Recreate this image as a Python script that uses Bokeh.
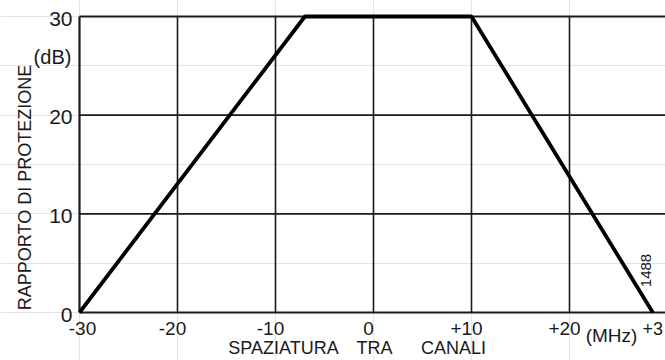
import math
from bokeh.plotting import figure
from bokeh.models import Range1d, Label
from bokeh.core.properties import value
from bokeh.embed import file_html
from bokeh.resources import INLINE

# Data
spacing_mhz = [-30, -7, 10, 28.5]
protection_db = [0, 30, 30, 0]
x_ticks = [-30, -20, -10, 0, 10, 20]
x_tick_labels = ["-30", "-20", "-10", "0", "+10", "+20"]
y_ticks = [0, 10, 20, 30]
y_tick_labels = ["0", "10", "20", "30"]
x_grid = [-20, -10, 0, 10, 20]
y_grid = [10, 20]
x_lo, x_hi = -30, 30
y_lo, y_hi = 0, 30

FONT = "Liberation Sans"
INK = "#1a1a1a"
W, H = 665, 360
# plot box in pixels (the canvas is one big frame so that texts are not clipped)
L, T, B = 79, 16, 312
px_x = 9.8
px_y = (B - T) / (y_hi - y_lo)

p = figure(frame_width=W, frame_height=H, min_border=0,
           x_range=Range1d(x_lo - L / px_x, x_lo + (W - L) / px_x),
           y_range=Range1d(y_lo - (H - B) / px_y, y_hi + T / px_y),
           x_axis_location=None, y_axis_location=None,
           output_backend="svg", toolbar_location=None)
p.outline_line_color = None
p.background_fill_color = "white"
p.border_fill_color = "white"

# inner grid
p.segment(x0=x_grid, y0=[y_lo] * len(x_grid), x1=x_grid, y1=[y_hi] * len(x_grid),
          line_color=INK, line_width=1.6)
p.segment(x0=[x_lo] * len(y_grid), y0=y_grid, x1=[x_hi] * len(y_grid), y1=y_grid,
          line_color=INK, line_width=1.6)
# box: left, bottom, top
p.segment(x0=[x_lo, x_lo, x_lo], y0=[y_lo, y_lo, y_hi],
          x1=[x_lo, x_hi, x_hi], y1=[y_hi, y_lo, y_hi],
          line_color=INK, line_width=2.2)

p.line(spacing_mhz, protection_db, line_color="black", line_width=3.8)

# tick labels
p.text(x=x_ticks[:1], y=[y_lo], text=x_tick_labels[:1], x_offset=3, y_offset=16,
       text_font=value(FONT), text_font_size="19px", text_color=INK,
       text_align="center", text_baseline="middle")
p.text(x=x_ticks[1:], y=[y_lo] * (len(x_ticks) - 1), text=x_tick_labels[1:],
       x_offset=-5, y_offset=16,
       text_font=value(FONT), text_font_size="19px", text_color=INK,
       text_align="center", text_baseline="middle")
p.text(x=[x_lo] * len(y_ticks), y=y_ticks, text=y_tick_labels, x_offset=-7, y_offset=2,
       text_font=value(FONT), text_font_size="21px", text_color=INK,
       text_align="right", text_baseline="middle")

def lab(text, x, y, size, angle=0.0, align="center", baseline="middle"):
    p.add_layout(Label(x=x, y=H - y, x_units="screen", y_units="screen", text=text,
                       text_font=FONT, text_font_size=size, text_color=INK,
                       text_align=align, text_baseline=baseline, angle=angle))

lab("RAPPORTO DI PROTEZIONE", 24, 187, "18px", angle=math.pi / 2)
lab("(dB)", 52, 56, "20px")
lab("SPAZIATURA", 283, 347, "18px")
lab("TRA", 374, 347, "18px")
lab("CANALI", 453, 347, "18px")
lab("(MHz)", 611, 335, "19px")
lab("+3", 642, 328, "18px", align="left")
lab("1488", 645, 270, "15px", angle=math.pi / 2)

open("out.html", "w").write(file_html(p, INLINE))
